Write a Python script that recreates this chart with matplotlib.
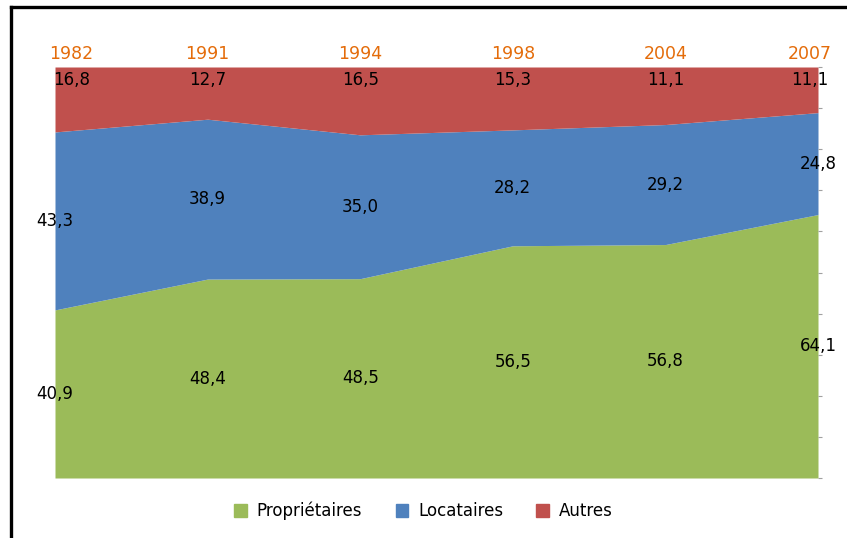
import matplotlib
matplotlib.use("Agg")
import matplotlib.pyplot as plt
from matplotlib.patches import Patch
from matplotlib.lines import Line2D
import numpy as np

years = ["1982", "1991", "1994", "1998", "2004", "2007"]
proprietaires = [40.9, 48.4, 48.5, 56.5, 56.8, 64.1]
locataires = [43.3, 38.9, 35.0, 28.2, 29.2, 24.8]
autres = [16.8, 12.7, 16.5, 15.3, 11.1, 11.1]

c_green = "#9BBB59"
c_blue = "#4F81BD"
c_red = "#C0504D"
c_orange = "#E46C0A"

plt.rcParams['font.family'] = ['DejaVu Sans']

fig = plt.figure(figsize=(8.47, 5.38), dpi=100)
ax = fig.add_axes([55/847, 1-478/538, (818-55)/847, (478-67)/538])

x = np.arange(len(years))
p = np.array(proprietaires)
l = np.array(locataires)
a = np.array(autres)

ax.fill_between(x, 0, p, color=c_green, lw=0)
ax.fill_between(x, p, p + l, color=c_blue, lw=0)
ax.fill_between(x, p + l, 100, color=c_red, lw=0)

ax.set_xlim(0, len(years) - 1)
ax.set_ylim(0, 100)

for s in ax.spines.values():
    s.set_visible(False)
ax.set_xticks([])
ax.yaxis.tick_right()
ax.set_yticks(np.arange(0, 101, 10))
ax.tick_params(axis='y', length=3, color='#A0A0A0', labelright=False, labelleft=False, direction='out')

fs = 12
n = len(years)
for i in range(n):
    dx = 12 if i == 0 else (-6 if i == n - 1 else 0)
    ax.annotate(years[i], (x[i], 100), xytext=(dx, 9), textcoords='offset points',
                ha='center', va='center', color=c_orange, fontsize=fs + 0.5, annotation_clip=False)
    ax.annotate(f"{autres[i]:.1f}".replace('.', ','), (x[i], 96.8), xytext=(dx, 0),
                textcoords='offset points', ha='center', va='center', color='black', fontsize=fs,
                annotation_clip=False)
    ax.text(x[i], p[i] + l[i] / 2, f"{locataires[i]:.1f}".replace('.', ','), ha='center', va='center',
            color='black', fontsize=fs, clip_on=False)
    ax.text(x[i], p[i] / 2, f"{proprietaires[i]:.1f}".replace('.', ','), ha='center', va='center',
            color='black', fontsize=fs, clip_on=False)

handles = [Patch(color=c_green, label="Propriétaires"),
           Patch(color=c_blue, label="Locataires"),
           Patch(color=c_red, label="Autres")]
fig.legend(handles=handles, loc='center', bbox_to_anchor=(0.5, 1 - 511/538), ncol=3, frameon=False,
           fontsize=fs, handlelength=0.75, handleheight=0.75, handletextpad=0.6, columnspacing=2.0)

# figure border lines (top and left)
fig.add_artist(Line2D([10.5/847, 1.0], [1 - 7/538, 1 - 7/538], color='black', lw=2.4, transform=fig.transFigure))
fig.add_artist(Line2D([10.5/847, 10.5/847], [0, 1 - 7/538], color='black', lw=2.4, transform=fig.transFigure))

fig.savefig("out.png", dpi=100)
